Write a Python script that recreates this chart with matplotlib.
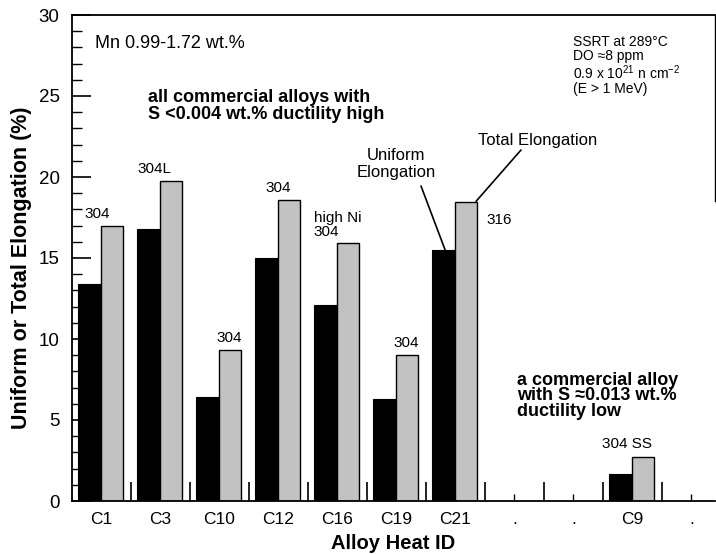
import numpy as np
import matplotlib
matplotlib.use("Agg")
import matplotlib.pyplot as plt
from matplotlib.ticker import MultipleLocator, FixedLocator

plt.rcParams['font.family'] = ['Liberation Sans', 'DejaVu Sans']
plt.rcParams['mathtext.fontset'] = 'custom'
plt.rcParams['mathtext.rm'] = 'Liberation Sans'
plt.rcParams['mathtext.default'] = 'regular'

# ---- data ----
categories = ["C1", "C3", "C10", "C12", "C16", "C19", "C21", ".", ".", "C9", "."]
alloys = ["C1", "C3", "C10", "C12", "C16", "C19", "C21", "C9"]
uniform = [13.4, 16.8, 6.4, 15.0, 12.1, 6.3, 15.5, 1.65]
total = [17.0, 19.75, 9.3, 18.6, 15.9, 9.0, 18.45, 2.7]
grades = ["304", "304L", "304", "304", "high Ni\n304", "304", "316", "304 SS"]

W, H = 716, 554
fig = plt.figure(figsize=(W / 100, H / 100), dpi=100)

def fx(x):
    return x / W

def fy(y):
    return 1 - y / H

ax = fig.add_axes([fx(72), fy(501), fx(715) - fx(72), fy(15) - fy(501)])

pos = [categories.index(a) for a in alloys]
bw = 0.40
ax.bar(pos, uniform, width=-bw, align='edge', color='black', edgecolor='black', linewidth=0.8, zorder=2)
ax.bar(pos, total, width=bw * 0.93, align='edge', color='#c2c2c2', edgecolor='black', linewidth=1.0, zorder=2)

ax.set_xlim(-0.5, 10.4)
ax.set_ylim(0, 30)

# y ticks
ax.yaxis.set_major_locator(MultipleLocator(5))
ax.yaxis.set_minor_locator(MultipleLocator(1))
ax.tick_params(axis='y', which='major', direction='in', length=14, width=1.2, labelsize=13.5, pad=9)
ax.tick_params(axis='y', which='minor', direction='in', length=7, width=1.0)

# x ticks
ax.set_xticks(range(len(categories)))
ax.set_xticklabels(categories)
ax.xaxis.set_minor_locator(FixedLocator([i + 0.5 for i in range(len(categories) - 1)]))
ax.tick_params(axis='x', which='major', direction='in', length=5, width=1.0, labelsize=12.5, pad=8)
ax.tick_params(axis='x', which='minor', direction='in', length=14, width=1.2)

for s in ['left', 'bottom', 'top']:
    ax.spines[s].set_linewidth(1.3)
ax.spines['right'].set_linewidth(1.0)
ax.spines['right'].set_bounds(18.5, 30)

ax.set_ylabel("Uniform or Total Elongation (%)", fontsize=15.5, fontweight='bold')
ax.yaxis.set_label_coords((32 - 72) / 643, 0.48)
ax.set_xlabel("Alloy Heat ID", fontsize=14.5, fontweight='bold')
ax.xaxis.set_label_coords(0.5, -(534 - 501) / 486)

# grade labels (layout offsets)
label_dx = [-0.07, -0.1, 0.17, 0.0, -bw, 0.17, 0.75, -0.1]
label_dy = [0.3, 0.3, 0.3, 0.3, 0.3, 0.3, -1.1, 0.4]
label_ha = ['center', 'center', 'center', 'center', 'left', 'center', 'center', 'center']
label_va = ['bottom'] * 6 + ['center', 'bottom']
for p, t, g, dx, dy, ha, va in zip(pos, total, grades, label_dx, label_dy, label_ha, label_va):
    ax.text(p + dx, t + dy, g, ha=ha, va=va, fontsize=11, linespacing=1.0)

# annotations
fig.text(fx(95), fy(44), "Mn 0.99-1.72 wt.%", fontsize=13, va='center', ha='left')
fig.text(fx(148), fy(106), "all commercial alloys with\nS <0.004 wt.% ductility high",
         fontsize=13, fontweight='bold', va='center', ha='left', linespacing=0.95)
fig.text(fx(573), fy(49), "SSRT at 289°C\nDO ≈8 ppm", fontsize=10, va='center', ha='left', linespacing=0.95)
fig.text(fx(573), fy(80), "0.9 x 10$^{21}$ n cm$^{-2}$\n(E > 1 MeV)", fontsize=10, va='center', ha='left',
         linespacing=1.0)
fig.text(fx(396), fy(164), "Uniform\nElongation", fontsize=12, va='center', ha='center', linespacing=1.2)
fig.text(fx(478), fy(140), "Total Elongation", fontsize=12, va='center', ha='left')
fig.text(fx(517), fy(396), "a commercial alloy\nwith S ≈0.013 wt.%\nductility low",
         fontsize=13, fontweight='bold', va='center', ha='left', linespacing=0.92)

i21 = alloys.index("C21")
ax.annotate('', xy=(pos[i21] - 0.17, uniform[i21] - 0.05), xytext=(fx(421), fy(186)),
            textcoords='figure fraction', arrowprops=dict(arrowstyle='-', lw=1.2, color='black',
                                                          shrinkA=0, shrinkB=0))
ax.annotate('', xy=(pos[i21] + 0.35, total[i21] + 0.05), xytext=(fx(521), fy(150)),
            textcoords='figure fraction', arrowprops=dict(arrowstyle='-', lw=1.2, color='black',
                                                          shrinkA=0, shrinkB=0))

fig.savefig("out.png", dpi=100)
